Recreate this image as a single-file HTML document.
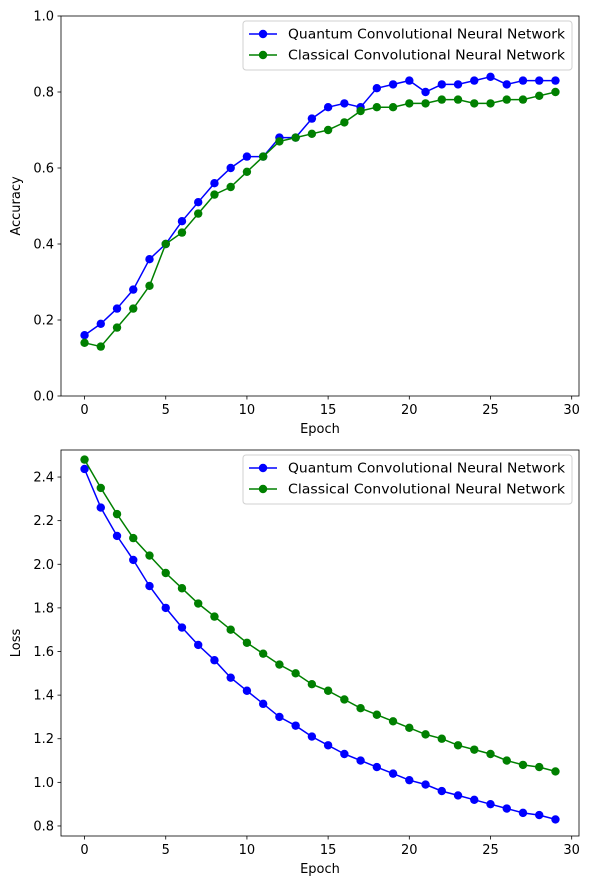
<!DOCTYPE html>
<html><head><meta charset="utf-8"><style>
body{margin:0;background:#fff}
svg{display:block;font-family:"DejaVu Sans","Liberation Sans",sans-serif}
</style></head><body>
<svg id="chart" width="589" height="889" viewBox="0 0 589 889"></svg>
<script>
const epochs = Array.from({length:30},(_,i)=>i);
const accQ = [0.16,0.19,0.23,0.28,0.36,0.40,0.46,0.51,0.56,0.60,0.63,0.63,0.68,0.68,0.73,0.76,0.77,0.76,0.81,0.82,0.83,0.80,0.82,0.82,0.83,0.84,0.82,0.83,0.83,0.83];
const accC = [0.14,0.13,0.18,0.23,0.29,0.40,0.43,0.48,0.53,0.55,0.59,0.63,0.67,0.68,0.69,0.70,0.72,0.75,0.76,0.76,0.77,0.77,0.78,0.78,0.77,0.77,0.78,0.78,0.79,0.80];
const lossQ = [2.437,2.26,2.13,2.02,1.90,1.80,1.71,1.63,1.56,1.48,1.42,1.36,1.30,1.26,1.21,1.17,1.13,1.10,1.07,1.04,1.01,0.99,0.96,0.94,0.92,0.90,0.88,0.86,0.85,0.83];
const lossC = [2.48,2.35,2.23,2.12,2.04,1.96,1.89,1.82,1.76,1.70,1.64,1.59,1.54,1.50,1.45,1.42,1.38,1.34,1.31,1.28,1.25,1.22,1.20,1.17,1.15,1.13,1.10,1.08,1.07,1.05];
const xTicks = [0,5,10,15,20,25,30];
const accTicks = [0.0,0.2,0.4,0.6,0.8,1.0];
const lossTicks = [0.8,1.0,1.2,1.4,1.6,1.8,2.0,2.2,2.4];
const legendLabels = ["Quantum Convolutional Neural Network","Classical Convolutional Neural Network"];

const NS="http://www.w3.org/2000/svg";
const svg=document.getElementById('chart');
function mk(tag,attrs,parent){const e=document.createElementNS(NS,tag);for(const k in attrs)e.setAttribute(k,attrs[k]);(parent||svg).appendChild(e);return e;}

function panel(cfg){
  const g=mk('g',{});
  
  
  const L=61,R=579,T=cfg.top,B=cfg.bottom;
  const xs=v=>L+(v-(-1.45))/(31.9)*(R-L);
  const ys=v=>B-(v-cfg.ymin)/(cfg.ymax-cfg.ymin)*(B-T);
  const series=[[cfg.q,'#0000ff','quantum'],[cfg.c,'#008000','classical']];
  series.forEach(([d,col,nm])=>{
    const pts=d.map((v,i)=>xs(epochs[i]).toFixed(1)+','+ys(v).toFixed(1)).join(' ');
    const pl=mk('polyline',{points:pts,fill:'none',stroke:col,'stroke-width':1.5},g);
    
    
    d.forEach((v,i)=>{
      const c=mk('circle',{cx:xs(epochs[i]),cy:ys(v),r:4.2,fill:col},g);
      
      
    });
  });
  const fr=mk('rect',{x:L,y:T,width:R-L,height:B-T,fill:'none',stroke:'#000','stroke-width':0.8},g);
  
  
  xTicks.forEach(t=>{
    const x=xs(t);
    mk('line',{x1:x,x2:x,y1:B,y2:B+3.5,stroke:'#000','stroke-width':0.8},g);
    const tx=mk('text',{x:x,y:B+18,'text-anchor':'middle','font-size':13,fill:'#000'},g);
    tx.textContent=t;
    
    
  });
  cfg.ticks.forEach(t=>{
    const y=ys(t);
    mk('line',{x1:L,x2:L-3.5,y1:y,y2:y,stroke:'#000','stroke-width':0.8},g);
    const tx=mk('text',{x:L-7,y:y+4.5,'text-anchor':'end','font-size':13,fill:'#000'},g);
    tx.textContent=t.toFixed(1);
    
    
  });
  const xt=mk('text',{x:(L+R)/2,y:B+37,'text-anchor':'middle','font-size':13,fill:'#000'},g);
  xt.textContent='Epoch';
  
  
  const yc=(T+B)/2;
  const yt=mk('text',{x:20,y:yc,'text-anchor':'middle','font-size':13,fill:'#000',transform:`rotate(-90 20 ${yc})`},g);
  yt.textContent=cfg.ylabel;
  
  
  const lg=mk('g',{},g);
  
  
  const ly=T+5;
  mk('rect',{x:243,y:ly,width:329,height:49,rx:3,fill:'#fff','fill-opacity':0.8,stroke:'#d0d0d0','stroke-width':1},lg);
  series.forEach(([d,col,nm],i)=>{
    const yy=ly+13+i*21;
    const e=mk('g',{},lg);
    
    
    mk('line',{x1:249,x2:277,y1:yy,y2:yy,stroke:col,'stroke-width':1.5},e);
    mk('circle',{cx:263,cy:yy,r:4.2,fill:col},e);
    const t=mk('text',{x:288,y:yy+4.5,'font-size':13,fill:'#000',textLength:277,lengthAdjust:'spacingAndGlyphs'},e);
    t.textContent=legendLabels[i];
  });
}
panel({name:'accuracy-chart',top:16,bottom:396,ymin:0,ymax:1,ticks:accTicks,q:accQ,c:accC,ylabel:'Accuracy'});
panel({name:'loss-chart',top:450,bottom:836,ymin:0.754,ymax:2.524,ticks:lossTicks,q:lossQ,c:lossC,ylabel:'Loss'});
</script>
</body></html>
